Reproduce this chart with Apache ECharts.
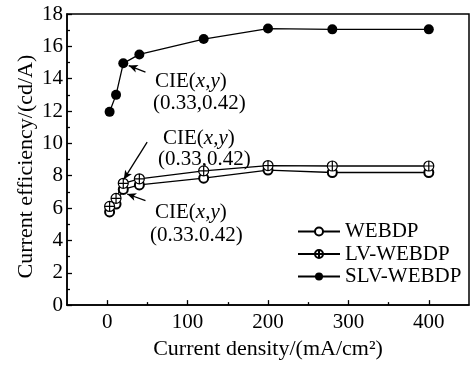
<!DOCTYPE html>
<html>
<head>
<meta charset="utf-8">
<script src="https://cdn.jsdelivr.net/npm/echarts@6/dist/echarts.min.js"></script>
<style>
html,body{margin:0;padding:0;background:#fff;}
#chart{width:472px;height:365px;}
</style>
</head>
<body>
<div id="chart"></div>
<script>
// ---- data ----
const currentDensity = [3, 11, 20, 40, 120, 200, 280, 400];
const webdp = [5.76, 6.25, 7.15, 7.43, 7.85, 8.35, 8.2, 8.2];
const lvWebdp = [6.1, 6.6, 7.53, 7.81, 8.3, 8.63, 8.6, 8.6];
const slvWebdp = [11.95, 13.0, 14.95, 15.5, 16.45, 17.1, 17.05, 17.05];
const seriesNames = ['WEBDP', 'LV-WEBDP', 'SLV-WEBDP'];
const xMajorTicks = [0, 100, 200, 300, 400];
const xMinorTicks = [50, 150, 250, 350];
const cieValues = ['(0.33,0.42)', '(0.33,0.42)', '(0.33.0.42)'];
// arrow annotations in data coordinates: [fromX, fromY, toX, toY]
const arrows = [
  [47.6, 14.41, 26.8, 14.81],
  [49.7, 10.08, 20.6, 7.77],
  [47.6, 6.46, 24.8, 6.87]
];

const FONT = '"Liberation Serif", "Times New Roman", serif';
const pair = d => currentDensity.map((x, i) => [x, d[i]]);
const crossCircle = 'path://M10,0 A10,10 0 1,1 10,20 A10,10 0 1,1 10,0 Z M10,0 L10,20 M0,10 L20,10';

const rich = {
  n: { fontFamily: FONT, fontSize: 21, fill: '#000' },
  i: { fontFamily: FONT, fontSize: 21, fontStyle: 'italic', fill: '#000' }
};
function cieText(x, y) {
  return { type: 'text', x: x, y: y, silent: true,
    style: { text: '{n|CIE(}{i|x,y}{n|)}', rich: rich, verticalAlign: 'middle', align: 'left' } };
}
function valText(x, y, t) {
  return { type: 'text', x: x, y: y, silent: true,
    style: { text: t, fontFamily: FONT, fontSize: 21, fill: '#000', verticalAlign: 'middle', align: 'left' } };
}

const chart = echarts.init(document.getElementById('chart'), null, { renderer: 'canvas' });
chart.setOption({
  backgroundColor: '#fff',
  animation: false,
  grid: { left: 67, right: 3, top: 14, bottom: 53, show: true, borderColor: '#000', borderWidth: 1.5 },
  legend: {
    orient: 'vertical', left: 297, top: 221, padding: 0,
    itemWidth: 42, itemHeight: 10, itemGap: 1.5,
    textStyle: { fontFamily: FONT, fontSize: 21, color: '#000', lineHeight: 21 },
    data: seriesNames
  },
  xAxis: [{
    type: 'value', min: -50, max: 450,
    name: 'Current density/(mA/cm²)', nameLocation: 'middle', nameGap: 30,
    nameTextStyle: { fontFamily: FONT, fontSize: 22, color: '#000' },
    axisLine: { show: true, onZero: false, lineStyle: { color: '#000', width: 1.5 } },
    axisTick: { show: true, inside: true, length: 5, customValues: xMajorTicks, lineStyle: { color: '#000', width: 1.3 } },
    axisLabel: { customValues: xMajorTicks, fontFamily: FONT, fontSize: 21, color: '#000', margin: 7 },
    splitLine: { show: false }
  }, {
    type: 'value', min: -50, max: 450, position: 'bottom',
    axisLine: { show: false, onZero: false },
    axisTick: { show: true, inside: true, length: 3, customValues: xMinorTicks, lineStyle: { color: '#000', width: 1.3 } },
    axisLabel: { show: false },
    splitLine: { show: false }
  }],
  yAxis: {
    type: 'value', min: 0, max: 18, interval: 2,
    name: 'Current efficiency/(cd/A)', nameLocation: 'middle', nameGap: 30, nameMoveOverlap: false,
    nameTextStyle: { fontFamily: FONT, fontSize: 22, color: '#000', padding: [0, 14, 0, 0] },
    axisLine: { show: true, onZero: false, lineStyle: { color: '#000', width: 1.5 } },
    axisTick: { show: true, inside: true, length: 5, lineStyle: { color: '#000', width: 1.3 } },
    minorTick: { show: true, splitNumber: 2, length: 3, lineStyle: { color: '#000', width: 1.3 } },
    axisLabel: { fontFamily: FONT, fontSize: 21, color: '#000', margin: 4 },
    splitLine: { show: false }
  },
  series: [{
    name: seriesNames[0], type: 'line', data: pair(webdp), color: '#000',
    symbol: 'emptyCircle', symbolSize: 9,
    itemStyle: { color: '#000', borderWidth: 1.3 },
    lineStyle: { color: '#000', width: 1.3 }
  }, {
    name: seriesNames[1], type: 'line', data: pair(lvWebdp), color: '#000',
    symbol: crossCircle, symbolSize: 10,
    itemStyle: { color: '#fff', borderColor: '#000', borderWidth: 1.2 },
    lineStyle: { color: '#000', width: 1.3 }
  }, {
    name: seriesNames[2], type: 'line', data: pair(slvWebdp), color: '#000',
    symbol: 'circle', symbolSize: 10,
    itemStyle: { color: '#000' },
    lineStyle: { color: '#000', width: 1.3 },
    markLine: {
      silent: true, symbol: ['none', 'arrow'], symbolSize: [6, 9],
      label: { show: false },
      lineStyle: { color: '#000', width: 1.3, type: 'solid' },
      data: arrows.map(a => [{ coord: [a[0], a[1]] }, { coord: [a[2], a[3]] }])
    }
  }],
  graphic: [
    cieText(155, 81), valText(153, 103, cieValues[0]),
    cieText(163, 138), valText(158, 159, cieValues[1]),
    cieText(155, 212), valText(150, 235, cieValues[2])
  ]
});
</script>
</body>
</html>
